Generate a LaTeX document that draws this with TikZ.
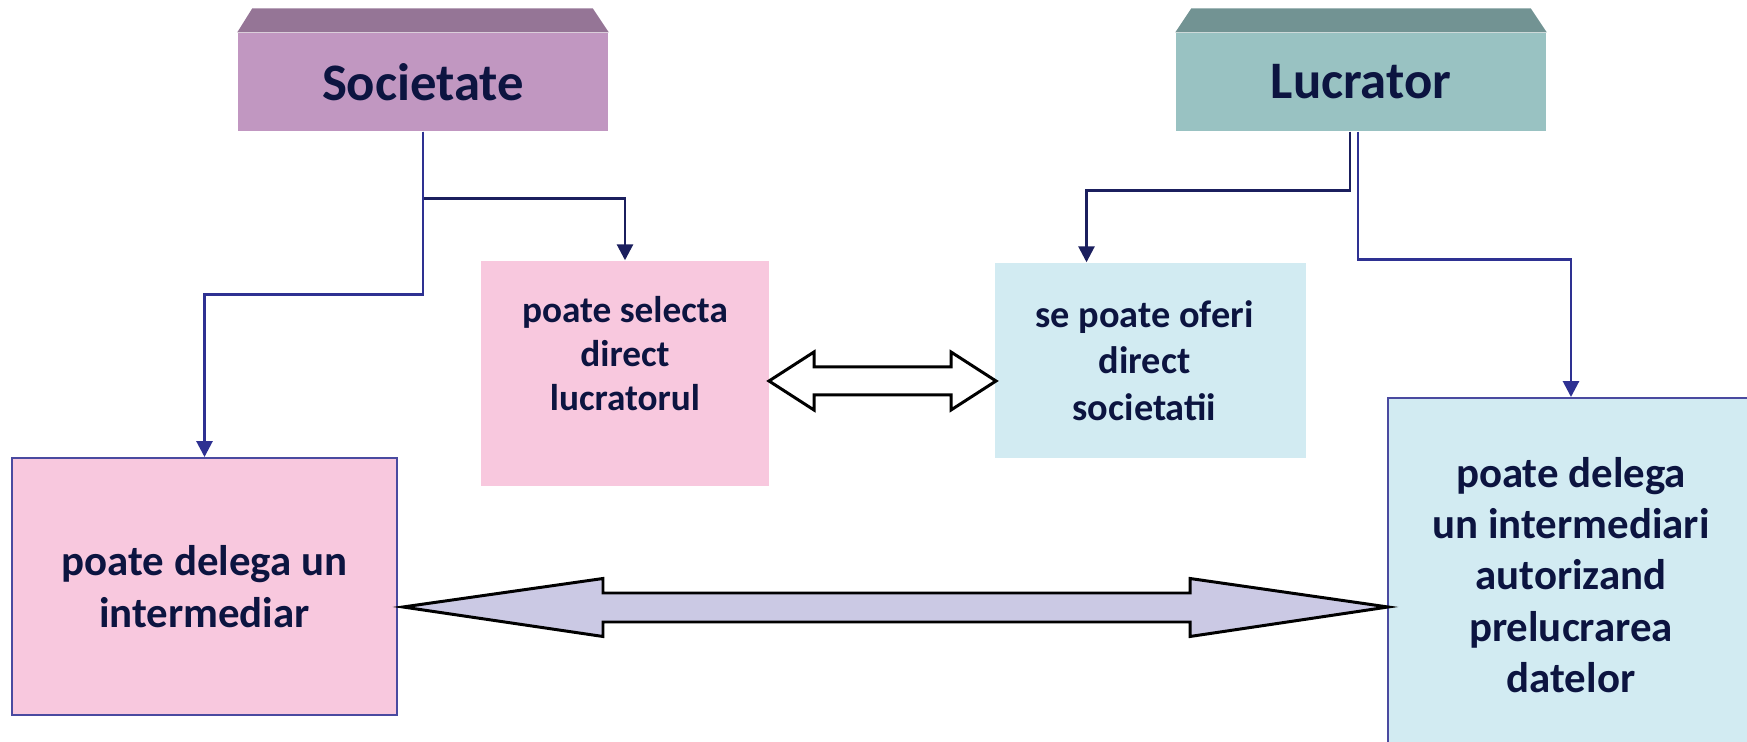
\documentclass[tikz,border=0pt]{standalone}
\usepackage{fontspec}
\setmainfont{Carlito}
\usetikzlibrary{arrows.meta,calc}
\definecolor{socfront}{HTML}{C197C1}
\definecolor{soctop}{HTML}{957596}
\definecolor{lucfront}{HTML}{99C2C2}
\definecolor{luctop}{HTML}{729393}
\definecolor{pinkbox}{HTML}{F8C8DE}
\definecolor{bluebox}{HTML}{D2EBF2}
\definecolor{edge}{HTML}{4A4AA0}
\definecolor{navy}{HTML}{1B1F5E}
\definecolor{blueln}{HTML}{2E3192}
\definecolor{txt}{HTML}{0C1440}
\definecolor{arrowfill}{HTML}{CBC9E4}
\begin{document}
\begin{tikzpicture}[x=0.1mm,y=-0.1mm,line join=miter,text=txt,
titlebox/.style={minimum width=37mm,minimum height=9.8mm,inner sep=0pt,font=\fontsize{15}{17}\selectfont\bfseries},
midbox/.style={inner sep=0pt,align=center,font=\fontsize{10.6}{12.5}\selectfont\bfseries},
bigbox/.style={draw=edge,line width=.55pt,inner sep=0pt,align=center,font=\fontsize{12.2}{14.6}\selectfont\bfseries},
link/.style={line width=.8pt,-{Triangle[width=1.6mm,length=1.6mm]}}]
\useasboundingbox (0,0) rectangle (1747,742);
%%Cap
\node[titlebox,fill=socfront] (soc) at (423,82) {Societate};
\fill[soctop] (soc.north west) -- ++(15,-24) -- ($(soc.north east)+(-16,-24)$) -- (soc.north east) -- cycle;
\node[titlebox,fill=lucfront] (luc) at (1361,82) {Lucrator};
\fill[luctop] (luc.north west) -- ++(16,-24) -- ($(luc.north east)+(-16,-24)$) -- (luc.north east) -- cycle;
%%Casete
\node[midbox,fill=pinkbox,minimum width=28.8mm,minimum height=22.5mm] (sel) at (625,373.5) {};
\node[midbox] at ([yshift=2mm]sel.center) {poate selecta\\direct\\lucratorul};
\node[midbox,fill=bluebox,minimum width=31.1mm,minimum height=19.5mm] (ofe) at (1150.5,360.5) {};
\node[midbox,font=\fontsize{10.9}{13.2}\selectfont\bfseries] at ([xshift=-.6mm]ofe.center) {se poate oferi\\direct\\societatii};
\node[bigbox,fill=pinkbox,minimum width=38.5mm,minimum height=25.7mm] (del) at (204.5,586.5) {poate delega un\\intermediar};
\node[bigbox,fill=bluebox,minimum width=36.6mm,minimum height=35.4mm] (aut) at (1571,575) {poate delega\\un intermediari\\autorizand\\prelucrarea\\datelor};
%Legaturi
\draw[link,navy] (soc.south) -- ++(0,67) -| (sel.north);
\draw[link,blueln] (soc.south) -- ++(0,163) -| (del.north);
\draw[link,navy] ($(luc.south)+(-11,0)$) -- ++(0,59) -| ($(ofe.north)+(-64,0)$);
\draw[link,blueln] ($(luc.south)+(-3,0)$) -- ++(0,128) -| (aut.north);
%%Sageti duble
\draw[line width=.85pt,fill=white] (769,381) -- (814,352) -- (814,367) -- (951,367) -- (951,352) -- (996,381) -- (951,410) -- (951,395) -- (814,395) -- (814,410) -- cycle;
\draw[line width=.85pt,fill=arrowfill] (403,607) -- (603,578.5) -- (603,593) -- (1190,593) -- (1190,578.5) -- (1388,607) -- (1190,636.5) -- (1190,622) -- (603,622) -- (603,636.5) -- cycle;
\end{tikzpicture}
\end{document}
